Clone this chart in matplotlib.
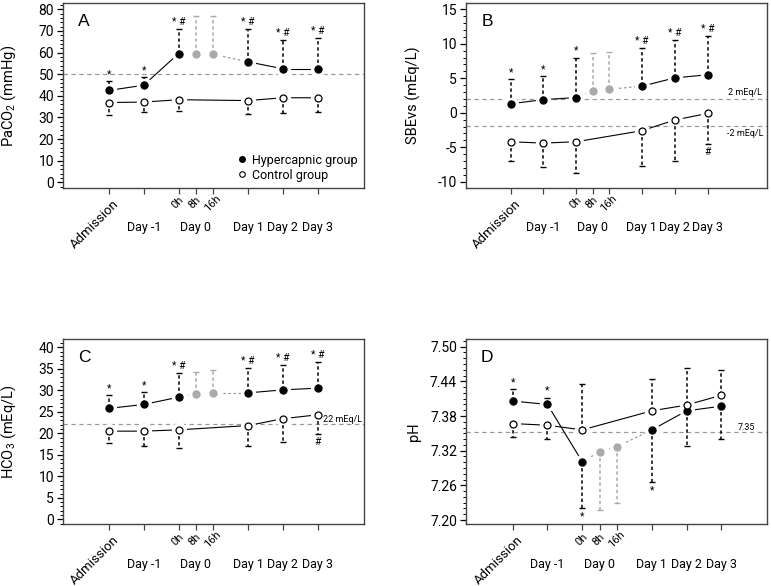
import matplotlib.pyplot as plt
from matplotlib.lines import Line2D
from matplotlib.ticker import MultipleLocator, FormatStrFormatter

plt.rcParams['font.family'] = ['Roboto', 'DejaVu Sans']

# POSICIONES Y ETIQUETAS DEL EJE X
x_hyp = [0, 1, 2, 2.5, 3, 4, 5, 6]
x_ctrl = [0, 1, 2, 4, 5, 6]
gris = [False, False, False, True, True, False, False, False]  # 8h y 16h en gris
day_labels = ['Day -1', 'Day 0', 'Day 1', 'Day 2', 'Day 3']
day_x = [1, 2.5, 4, 5, 6]
hour_labels = ['0h', '8h', '16h']
hour_x = [2, 2.5, 3]

# A - PaCO2
paco2_hyp = [42.5, 44.9, 59.5, 59.5, 59.2, 55.7, 52.5, 52.5]
paco2_hyp_err = [46.8, 48.5, 70.9, 76.8, 76.8, 71.1, 65.7, 66.8]
paco2_ctrl = [36.9, 37.1, 38.2, 37.8, 39.1, 39.1]
paco2_ctrl_err = [31.1, 32.5, 33.1, 31.8, 32.2, 32.3]
paco2_hyp_sig = ['*', '*', '* #', '', '', '* #', '* #', '* #']
paco2_ctrl_sig = ['', '', '', '', '', '']

# B - SBEvs
sbe_hyp = [1.3, 1.9, 2.2, 3.1, 3.4, 3.85, 5.05, 5.5]
sbe_hyp_err = [4.9, 5.3, 8.0, 8.7, 8.8, 9.45, 10.55, 11.1]
sbe_ctrl = [-4.2, -4.4, -4.2, -2.6, -1.05, -0.1]
sbe_ctrl_err = [-7.05, -7.8, -8.75, -7.7, -7.0, -4.5]
sbe_hyp_sig = ['*', '*', '*', '', '', '* #', '* #', '* #']
sbe_ctrl_sig = ['', '', '', '', '', '#']

# C - HCO3
hco3_hyp = [25.8, 26.7, 28.4, 29.1, 29.4, 29.4, 30.1, 30.5]
hco3_hyp_err = [28.8, 29.5, 34.1, 34.3, 34.8, 35.2, 35.8, 36.6]
hco3_ctrl = [20.5, 20.5, 20.8, 21.8, 23.4, 24.3]
hco3_ctrl_err = [17.7, 17.1, 16.6, 17.1, 18.0, 19.8]
hco3_hyp_sig = ['*', '*', '* #', '', '', '* #', '* #', '* #']
hco3_ctrl_sig = ['', '', '', '', '', '#']

# D - pH
ph_hyp = [7.406, 7.400, 7.301, 7.318, 7.327, 7.356, 7.389, 7.397]
ph_hyp_err = [7.426, 7.412, 7.220, 7.217, 7.229, 7.265, 7.328, 7.340]
ph_ctrl = [7.367, 7.364, 7.356, 7.389, 7.399, 7.416]
ph_ctrl_err = [7.344, 7.340, 7.435, 7.444, 7.463, 7.460]
ph_hyp_sig = ['*', '*', '*', '', '', '*', '', '']
ph_ctrl_sig = ['', '', '', '', '', '']


def barra(ax, x, v, e, s, color):
    ax.plot([x, x], [v, e], color=color, lw=1.1, ls=(0, (2.2, 1.8)), zorder=3)
    ax.plot(x, e, marker='_', ms=5, mew=1, color=color, zorder=3)
    if s:
        dy = 7 if e >= v else -8
        ax.annotate(s, (x, e), xytext=(0, dy), textcoords='offset pixels',
                    ha='center', va='center', fontsize=7.5, annotation_clip=False)


def dibujar_panel(ax, letra, ylabel, hyp, hyp_err, ctrl, ctrl_err, hyp_sig, ctrl_sig,
                  xlim, ylim, mayor, menor, fmt, refs):
    # lineas de referencia
    for v, txt, dx, dy in refs:
        ax.axhline(v, color='#9a9a9a', lw=0.9, ls=(0, (3.5, 2.8)), zorder=0)
        ax.annotate(txt, (1, v), xycoords=('axes fraction', 'data'), xytext=(dx, dy),
                    textcoords='offset pixels', ha='right', va='center', fontsize=6.5)
    # lineas de union (grupo hipercapnico)
    for i in range(len(x_hyp) - 1):
        if gris[i] or gris[i + 1]:
            ax.plot(x_hyp[i:i + 2], hyp[i:i + 2], color='#999999', lw=0.9, ls=(0, (2, 2)), zorder=1)
        else:
            ax.plot(x_hyp[i:i + 2], hyp[i:i + 2], color='black', lw=0.8, zorder=1)
    ax.plot(x_ctrl, ctrl, color='black', lw=0.8, zorder=1)
    # halos blancos para dejar hueco entre linea y punto (como type="b" en R)
    ax.plot(x_hyp, hyp, 'o', ms=10, color='white', zorder=2)
    ax.plot(x_ctrl, ctrl, 'o', ms=10, color='white', zorder=2)
    # barras de error de un solo lado
    for x, v, e, s, g in zip(x_hyp, hyp, hyp_err, hyp_sig, gris):
        barra(ax, x, v, e, s, '#aaaaaa' if g else 'black')
    for x, v, e, s in zip(x_ctrl, ctrl, ctrl_err, ctrl_sig):
        barra(ax, x, v, e, s, 'black')
    # puntos
    for x, v, g in zip(x_hyp, hyp, gris):
        ax.plot(x, v, 'o', ms=5, color='#aaaaaa' if g else 'black', zorder=4)
    ax.plot(x_ctrl, ctrl, 'o', ms=5, mfc='white', mec='black', mew=0.9, zorder=4)

    ax.set_xlim(xlim)
    ax.set_ylim(ylim)
    ax.yaxis.set_major_locator(MultipleLocator(mayor))
    ax.yaxis.set_minor_locator(MultipleLocator(menor))
    ax.yaxis.set_major_formatter(FormatStrFormatter(fmt))
    ax.tick_params(axis='y', which='major', direction='out', length=4.5, width=0.9, labelsize=10, pad=2)
    ax.tick_params(axis='y', which='minor', direction='out', length=2.2, width=0.7)
    ax.set_xticks(x_hyp)
    ax.set_xticklabels([])
    ax.tick_params(axis='x', direction='out', length=4, width=0.9, color='#444444')
    for sp in ax.spines.values():
        sp.set_color('#444444')
        sp.set_linewidth(1)
    ax.set_ylabel(ylabel, fontsize=10.5)
    ax.yaxis.set_label_coords(-0.148, 0.5)

    ax.text(0.07, 0.9, letra, transform=ax.transAxes, fontsize=12.5,
            family=['Liberation Sans', 'DejaVu Sans'], ha='center', va='center')

    # etiquetas del eje x
    ax.annotate('Admission', (0, 0), xycoords=('data', 'axes fraction'), xytext=(-14, -36),
                textcoords='offset pixels', rotation=45, ha='center', va='center',
                fontsize=9.5, annotation_clip=False)
    for x, t in zip(hour_x, hour_labels):
        ax.annotate(t, (x, 0), xycoords=('data', 'axes fraction'), xytext=(-1, -15),
                    textcoords='offset pixels', rotation=45, ha='center', va='center',
                    fontsize=8, annotation_clip=False)
    for x, t in zip(day_x, day_labels):
        ax.annotate(t, (x, 0), xycoords=('data', 'axes fraction'), xytext=(0, -40),
                    textcoords='offset pixels', ha='center', va='center',
                    fontsize=9, annotation_clip=False)


fig = plt.figure(figsize=(7.71, 5.86), dpi=100)
ax_a = fig.add_axes([0.0817, 0.6792, 0.3904, 0.3157])
ax_b = fig.add_axes([0.6044, 0.6792, 0.3904, 0.3157])
ax_c = fig.add_axes([0.0817, 0.1053, 0.3904, 0.3157])
ax_d = fig.add_axes([0.6044, 0.1053, 0.3904, 0.3157])

dibujar_panel(ax_a, 'A', 'PaCO$_{\\mathregular{2}}$ (mmHg)', paco2_hyp, paco2_hyp_err, paco2_ctrl,
              paco2_ctrl_err, paco2_hyp_sig, paco2_ctrl_sig, (-1.32, 7.33), (-2.6, 82.9),
              10, 2, '%d', [(50, '', 0, 0)])
dibujar_panel(ax_b, 'B', 'SBEvs (mEq/L)', sbe_hyp, sbe_hyp_err, sbe_ctrl, sbe_ctrl_err,
              sbe_hyp_sig, sbe_ctrl_sig, (-1.36, 7.81), (-10.9, 15.9), 5, 1, '%d',
              [(2.05, '2 mEq/L', -5, 6), (-1.85, '-2 mEq/L', -3, -8)])
dibujar_panel(ax_c, 'C', 'HCO$_{\\mathregular{3}}$ (mEq/L)', hco3_hyp, hco3_hyp_err, hco3_ctrl,
              hco3_ctrl_err, hco3_hyp_sig, hco3_ctrl_sig, (-1.32, 7.33), (-1.16, 41.86),
              5, 1, '%d', [(22.1, '22 mEq/L', -2, 5)])
dibujar_panel(ax_d, 'D', 'pH', ph_hyp, ph_hyp_err, ph_ctrl, ph_ctrl_err, ph_hyp_sig, ph_ctrl_sig,
              (-1.34, 7.31), (7.1926, 7.5128), 0.06, 0.01, '%.2f',
              [(7.352, '7.35', -12, 5)])

# leyenda del panel A
handles = [Line2D([], [], marker='o', color='black', ls='none', ms=4, label='Hypercapnic group'),
           Line2D([], [], marker='o', mfc='white', mec='black', mew=0.8, ls='none', ms=4,
                  label='Control group')]
ax_a.legend(handles=handles, loc='lower right', frameon=False, fontsize=9, handlelength=0.8,
            handletextpad=0.4, borderaxespad=0.3, labelspacing=0.15, borderpad=0.2)

fig.savefig('out.png', dpi=100)
